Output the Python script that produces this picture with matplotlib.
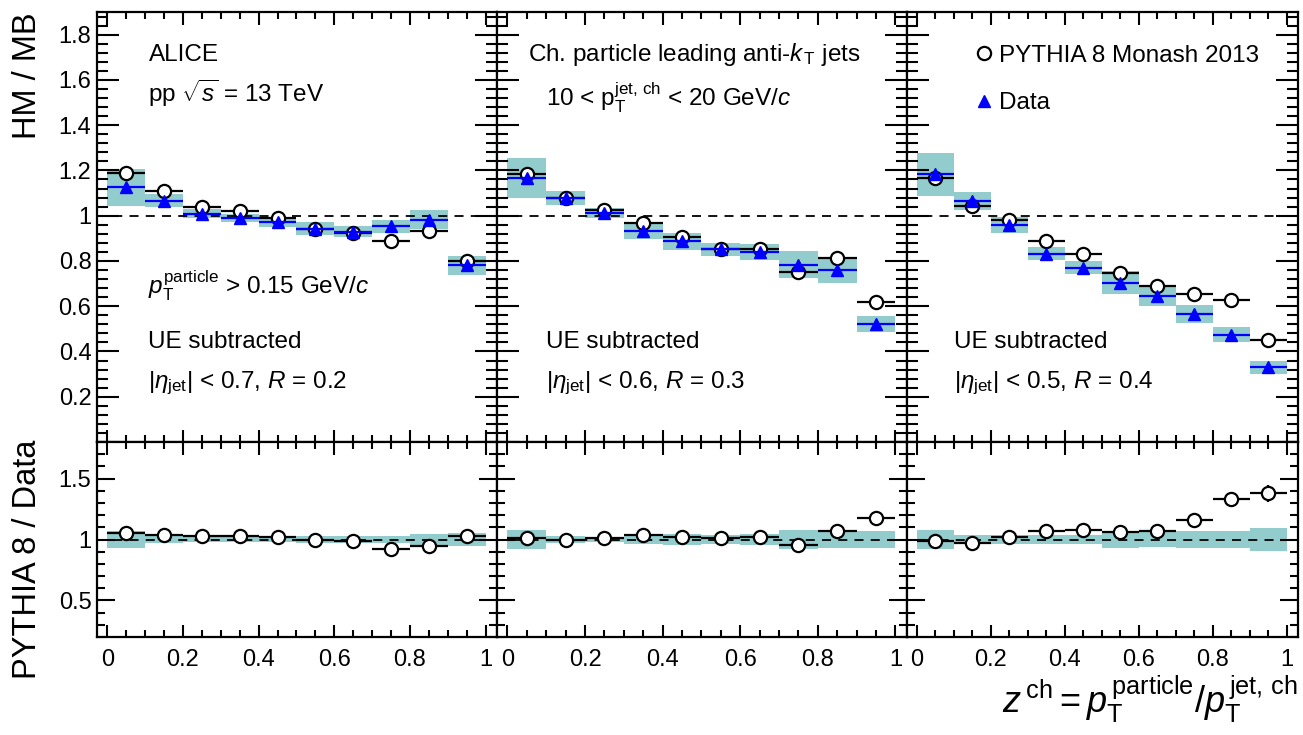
import numpy as np
import matplotlib.pyplot as plt
from matplotlib.ticker import MultipleLocator, FuncFormatter

plt.rcParams['font.family'] = ['Liberation Sans', 'DejaVu Sans']
plt.rcParams['mathtext.fontset'] = 'custom'
plt.rcParams['mathtext.rm'] = 'Liberation Sans'
plt.rcParams['mathtext.it'] = 'Liberation Sans:italic'
plt.rcParams['mathtext.bf'] = 'Liberation Sans:bold'

# bin centres in z^ch (bins of width 0.1)
z = [0.05, 0.15, 0.25, 0.35, 0.45, 0.55, 0.65, 0.75, 0.85, 0.95]

# R = 0.2
mc_r02 = [1.19, 1.11, 1.04, 1.019, 0.99, 0.943, 0.925, 0.886, 0.933, 0.80]
data_r02 = [1.125, 1.067, 1.009, 0.99, 0.973, 0.943, 0.929, 0.953, 0.983, 0.78]
sys_r02 = [0.083, 0.03, 0.02, 0.019, 0.022, 0.027, 0.025, 0.03, 0.043, 0.043]
mcerr_r02 = [0.004, 0.003, 0.003, 0.003, 0.003, 0.003, 0.004, 0.005, 0.006, 0.008]
ratio_r02 = [1.055, 1.041, 1.03, 1.025, 1.019, 1.0, 0.986, 0.924, 0.95, 1.025]
rerr_r02 = [0.005, 0.004, 0.004, 0.004, 0.004, 0.004, 0.005, 0.006, 0.008, 0.012]

# R = 0.3
mc_r03 = [1.183, 1.077, 1.023, 0.968, 0.907, 0.853, 0.852, 0.75, 0.813, 0.617]
data_r03 = [1.168, 1.077, 1.013, 0.932, 0.886, 0.852, 0.838, 0.784, 0.758, 0.52]
sys_r03 = [0.089, 0.03, 0.023, 0.033, 0.038, 0.029, 0.035, 0.058, 0.054, 0.035]
mcerr_r03 = [0.004, 0.003, 0.003, 0.003, 0.003, 0.004, 0.005, 0.006, 0.008, 0.008]
ratio_r03 = [1.01, 1.0, 1.01, 1.04, 1.02, 1.01, 1.02, 0.955, 1.07, 1.175]
rerr_r03 = [0.005, 0.004, 0.004, 0.004, 0.004, 0.005, 0.006, 0.008, 0.012, 0.018]

# R = 0.4
mc_r04 = [1.168, 1.045, 0.98, 0.89, 0.832, 0.748, 0.69, 0.653, 0.627, 0.45]
data_r04 = [1.183, 1.064, 0.958, 0.832, 0.77, 0.704, 0.643, 0.564, 0.475, 0.33]
sys_r04 = [0.096, 0.041, 0.036, 0.03, 0.029, 0.05, 0.041, 0.04, 0.035, 0.03]
mcerr_r04 = [0.004, 0.003, 0.003, 0.003, 0.004, 0.005, 0.006, 0.01, 0.024, 0.012]
ratio_r04 = [0.985, 0.975, 1.02, 1.07, 1.08, 1.06, 1.07, 1.16, 1.33, 1.38]
rerr_r04 = [0.005, 0.004, 0.005, 0.006, 0.008, 0.01, 0.012, 0.02, 0.05, 0.07]

panels = [
    (mc_r02, data_r02, sys_r02, mcerr_r02, ratio_r02, rerr_r02),
    (mc_r03, data_r03, sys_r03, mcerr_r03, ratio_r03, rerr_r03),
    (mc_r04, data_r04, sys_r04, mcerr_r04, ratio_r04, rerr_r04),
]

teal = '#93cccc'
W, H = 1303, 735
fig = plt.figure(figsize=(W / 100, H / 100), dpi=100)

# panel edges in pixels
xedges = [(97, 497), (497, 907), (907, 1298)]
top_y = (12, 442)
bot_y = (442, 637)


def px_axes(x0, x1, y0, y1):
    return fig.add_axes([x0 / W, 1 - y1 / H, (x1 - x0) / W, (y1 - y0) / H])


def fmt_g(v, pos):
    return '%g' % round(v, 3)


def fmt_top(v, pos):
    if v < 0.1:
        return ''
    return '%g' % round(v, 3)


tops, bots = [], []
for i, (mc, dat, sy, mce, rat, rerr) in enumerate(panels):
    x0, x1 = xedges[i]
    at = px_axes(x0, x1, *top_y)
    ab = px_axes(x0, x1, *bot_y)
    mc = np.array(mc); dat = np.array(dat); sy = np.array(sy)
    rat = np.array(rat)

    # top: HM / MB
    at.bar(z, 2 * sy, bottom=dat - sy, width=0.1, color=teal, linewidth=0, zorder=1)
    at.axhline(1, color='black', ls=(0, (5, 4)), lw=1.3, zorder=2)
    at.errorbar(z, mc, xerr=0.05, yerr=mce, fmt='none', ecolor='black', elinewidth=1.6, zorder=3)
    at.plot(z, mc, 'o', mfc='white', mec='black', mew=1.6, ms=9.5, ls='none', zorder=4,
            label='PYTHIA 8 Monash 2013')
    at.errorbar(z, dat, xerr=0.05, fmt='none', ecolor='blue', elinewidth=1.6, zorder=5)
    at.plot(z, dat, '^', color='blue', ms=8, ls='none', zorder=6, label='Data')
    at.set_ylim(0.0, 1.9)

    # bottom: ratio
    rel = sy / dat
    ab.bar(z, 2 * rel, bottom=1 - rel, width=0.1, color=teal, linewidth=0, zorder=1)
    ab.axhline(1, color='black', ls=(0, (5, 4)), lw=1.3, zorder=2)
    ab.errorbar(z, rat, xerr=0.05, yerr=rerr, fmt='none', ecolor='black', elinewidth=1.6, zorder=3)
    ab.plot(z, rat, 'o', mfc='white', mec='black', mew=1.6, ms=9.5, ls='none', zorder=4)
    ab.set_ylim(0.2, 1.8)

    for ax in (at, ab):
        ax.set_xlim(-0.027, 1.03)
        for s in ax.spines.values():
            s.set_linewidth(1.6)
        ax.xaxis.set_major_locator(MultipleLocator(0.2))
        ax.xaxis.set_minor_locator(MultipleLocator(0.05))
        ax.tick_params(which='both', direction='in', top=True, right=True, width=1.5,
                       labelsize=17)
        ax.tick_params(axis='x', which='major', length=9, pad=9)
        ax.tick_params(axis='x', which='minor', length=5)
    at.yaxis.set_major_locator(MultipleLocator(0.2))
    at.yaxis.set_minor_locator(MultipleLocator(0.04))
    at.tick_params(axis='y', which='major', length=16, pad=4)
    at.tick_params(axis='y', which='minor', length=8)
    ab.yaxis.set_major_locator(MultipleLocator(0.5))
    ab.yaxis.set_minor_locator(MultipleLocator(0.1))
    ab.tick_params(axis='y', which='major', length=13, pad=4)
    ab.tick_params(axis='y', which='minor', length=6)
    at.tick_params(axis='x', labelbottom=False)
    at.yaxis.set_major_formatter(FuncFormatter(fmt_top))
    ab.yaxis.set_major_formatter(FuncFormatter(fmt_g))
    ab.xaxis.set_major_formatter(FuncFormatter(fmt_g))
    if i > 0:
        at.tick_params(axis='y', labelleft=False)
        ab.tick_params(axis='y', labelleft=False)
    tops.append(at)
    bots.append(ab)

fs = 17.5
a1, a2, a3 = tops
a1.text(0.109, 1.71, 'ALICE', fontsize=fs, va='center')
a1.text(0.109, 1.54, r'pp $\sqrt{s}$ = 13 TeV', fontsize=fs, va='center')
a1.text(0.109, 0.69, r'$p_{\mathrm{T}}^{\mathrm{particle}}$ > 0.15 GeV/$c$', fontsize=fs, va='center')
a1.text(0.109, 0.44, 'UE subtracted', fontsize=fs, va='center')
a1.text(0.109, 0.26, r'$|\eta_{\mathrm{jet}}|$ < 0.7, $R$ = 0.2', fontsize=fs, va='center')

a2.text(0.054, 1.71, r'Ch. particle leading anti-$k_{\,\mathrm{T}}$ jets', fontsize=fs, va='center')
a2.text(0.1, 1.52, r'10 < $\mathrm{p}_{\mathrm{T}}^{\mathrm{jet,\,ch}}$ < 20 GeV/$c$', fontsize=fs, va='center')
a2.text(0.1, 0.44, 'UE subtracted', fontsize=fs, va='center')
a2.text(0.1, 0.26, r'$|\eta_{\mathrm{jet}}|$ < 0.6, $R$ = 0.3', fontsize=fs, va='center')

a3.text(0.1, 0.44, 'UE subtracted', fontsize=fs, va='center')
a3.text(0.1, 0.26, r'$|\eta_{\mathrm{jet}}|$ < 0.5, $R$ = 0.4', fontsize=fs, va='center')
a3.legend(loc='upper left', bbox_to_anchor=(0.115, 0.975), frameon=False, fontsize=fs,
          handlelength=0.8, handletextpad=0.25, labelspacing=1.05)

fig.text(28 / W, 1 - 12 / H, 'HM / MB', rotation=90, ha='center', va='top', fontsize=23.5)
fig.text(28 / W, 1 - 440 / H, 'PYTHIA 8 / Data', rotation=90, ha='center', va='top', fontsize=23.5)
fig.text(1298 / W, 1 - 713 / H,
         r'$z^{\,\mathrm{ch}} = p_{\mathrm{T}}^{\,\mathrm{particle}}/p_{\mathrm{T}}^{\,\mathrm{jet,\,ch}}$',
         ha='right', va='baseline', fontsize=26)

fig.savefig('out.png', dpi=100)
